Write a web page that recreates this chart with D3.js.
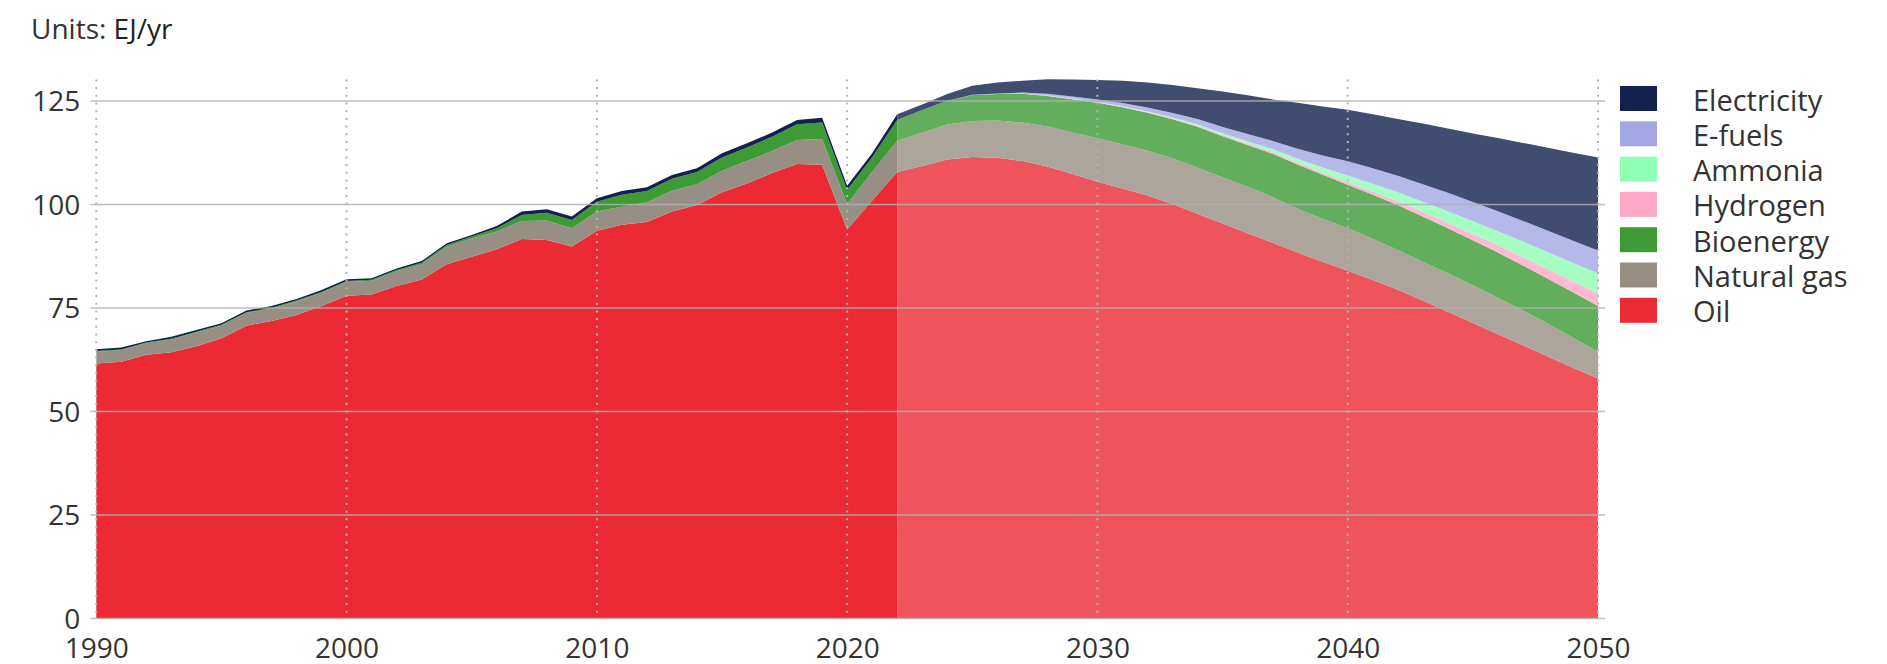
<!DOCTYPE html>
<html>
<head>
<meta charset="utf-8">
<script src="https://cdn.jsdelivr.net/npm/d3@7"></script>
<style>
  body { margin: 0; background: #fff; }
  text { font-family: "Open Sans", "Noto Sans", sans-serif; fill: #333; }
</style>
</head>
<body>
<div id="chart"></div>
<script>
const FRAME_WIDTH = 1887;
const FRAME_HEIGHT = 664;
const PLOT = {left: 96.3, right: 1598, top: 80.4, bottom: 618.5};

// years shown on the chart, history ends and outlook starts in 2022
const YEARS = d3.range(1990, 2051);
const SPLIT_YEAR = 2022;
const X_TICKS = [1990, 2000, 2010, 2020, 2030, 2040, 2050];
const Y_TICKS = [0, 25, 50, 75, 100, 125];

// EJ/yr, one value per year 1990..2050
const OIL = [61.6, 62.0, 63.7, 64.3, 65.8, 67.7, 70.75, 71.9, 73.3, 75.5,
  78.0, 78.3, 80.3, 81.9, 85.6, 87.4, 89.2, 91.7, 91.45, 89.85,
  93.7, 95.1, 95.8, 98.3, 99.9, 103.0, 105.1, 107.6, 109.8, 109.65,
  94.0, 101.0, 107.9, 109.3, 110.9, 111.5, 111.3, 110.5, 109.2, 107.4,
  105.5, 103.9, 102.2, 100.15, 97.8, 95.4, 93.1, 90.8, 88.4, 86.2,
  84.0, 81.8, 79.4, 76.8, 74.1, 71.4, 68.7, 66.0, 63.3, 60.6, 58.0];
const GAS = [2.85, 2.85, 2.8, 3.1, 3.3, 3.05, 3.1, 2.95, 3.3, 3.2,
  3.3, 3.3, 3.6, 3.7, 4.2, 4.4, 4.3, 4.35, 4.7, 4.45,
  4.6, 4.4, 4.75, 5.05, 5.0, 5.2, 5.4, 5.35, 5.8, 6.2,
  6.15, 6.95, 7.55, 8.05, 8.45, 8.7, 9.0, 9.3, 9.65, 10.0,
  10.5, 10.7, 10.8, 11.05, 11.1, 11.2, 11.2, 11.0, 10.6, 10.4,
  10.27, 9.9, 9.6, 9.4, 9.3, 9.1, 8.8, 8.4, 7.9, 7.2, 6.45];
const BIO = [0.15, 0.15, 0.15, 0.2, 0.2, 0.2, 0.15, 0.2, 0.2, 0.2,
  0.25, 0.25, 0.3, 0.35, 0.45, 0.5, 0.8, 1.45, 1.9, 2.0,
  2.4, 2.9, 2.75, 2.9, 3.0, 3.2, 3.3, 3.45, 3.8, 3.95,
  3.4, 3.5, 5.0, 5.5, 5.75, 6.3, 6.4, 7.0, 7.4, 8.05,
  8.6, 8.9, 9.2, 9.4, 9.9, 9.9, 10.1, 10.5, 10.7, 10.6,
  10.53, 10.7, 10.9, 10.9, 10.9, 10.9, 10.9, 10.9, 10.9, 11.0, 11.05];
const HYDROGEN = [0, 0, 0, 0, 0, 0, 0, 0, 0, 0,
  0, 0, 0, 0, 0, 0, 0, 0, 0, 0,
  0, 0, 0, 0, 0, 0, 0, 0, 0, 0,
  0, 0, 0, 0, 0, 0, 0.01, 0.03, 0.05, 0.07,
  0.1, 0.12, 0.15, 0.2, 0.25, 0.3, 0.35, 0.4, 0.45, 0.5,
  0.6, 0.75, 0.9, 1.1, 1.3, 1.5, 1.75, 2.0, 2.3, 2.65, 3.05];
const AMMONIA = [0, 0, 0, 0, 0, 0, 0, 0, 0, 0,
  0, 0, 0, 0, 0, 0, 0, 0, 0, 0,
  0, 0, 0, 0, 0, 0, 0, 0, 0, 0,
  0, 0, 0, 0, 0, 0, 0.01, 0.03, 0.05, 0.08,
  0.1, 0.15, 0.2, 0.25, 0.35, 0.45, 0.55, 0.7, 0.95, 1.25,
  1.6, 1.9, 2.2, 2.5, 2.8, 3.05, 3.4, 3.75, 4.1, 4.45, 4.85];
const EFUELS = [0, 0, 0, 0, 0, 0, 0, 0, 0, 0,
  0, 0, 0, 0, 0, 0, 0, 0, 0, 0,
  0, 0, 0, 0, 0, 0, 0, 0, 0, 0,
  0, 0, 0, 0, 0, 0.02, 0.1, 0.2, 0.4, 0.5,
  0.6, 0.75, 0.9, 1.05, 1.25, 1.5, 1.75, 1.95, 2.4, 2.9,
  3.45, 3.7, 3.95, 4.2, 4.45, 4.65, 4.85, 5.0, 5.2, 5.35, 5.5];
const ELECTRICITY = [0.45, 0.45, 0.35, 0.45, 0.4, 0.4, 0.4, 0.45, 0.4, 0.45,
  0.4, 0.35, 0.35, 0.4, 0.4, 0.35, 0.5, 0.8, 0.8, 0.8,
  0.8, 0.9, 0.9, 0.9, 0.9, 1.0, 1.0, 1.0, 1.05, 1.2,
  1.0, 0.95, 1.35, 1.35, 1.6, 2.2, 2.65, 2.85, 3.5, 4.1,
  4.7, 5.38, 6.05, 6.8, 7.45, 8.55, 9.35, 10.05, 11.1, 11.85,
  12.45, 13.05, 13.75, 14.7, 15.55, 16.6, 17.7, 18.85, 20.0, 21.25, 22.5];

// stacked bottom to top
const SERIES = [
  {key: "Oil", values: OIL, color: "#EC2A34"},
  {key: "Natural gas", values: GAS, color: "#978F84"},
  {key: "Bioenergy", values: BIO, color: "#3D9A34"},
  {key: "Hydrogen", values: HYDROGEN, color: "#FFA8C8"},
  {key: "Ammonia", values: AMMONIA, color: "#8FFFB4"},
  {key: "E-fuels", values: EFUELS, color: "#A3A8E5"},
  {key: "Electricity", values: ELECTRICITY, color: "#12214D"}
];

const rows = YEARS.map((yr, i) => {
  const row = {year: yr};
  SERIES.forEach((s) => { row[s.key] = s.values[i]; });
  return row;
});

const X_SCALE = d3.scaleLinear().domain([1990, 2050]).range([PLOT.left, PLOT.right]);
const Y_SCALE = d3.scaleLinear().domain([0, 130]).range([PLOT.bottom, PLOT.top]);

const stack = d3.stack().keys(SERIES.map((s) => s.key));
const layers = stack(rows);

const area = d3.area()
  .x((d) => X_SCALE(d.data.year))
  .y0((d) => Y_SCALE(d[0]))
  .y1((d) => Y_SCALE(d[1]));

const FRAME = d3.select("#chart")
  .append("svg")
    .attr("width", FRAME_WIDTH)
    .attr("height", FRAME_HEIGHT);

// clip history and outlook apart so the outlook can be drawn lighter
const defs = FRAME.append("defs");
const splitX = X_SCALE(SPLIT_YEAR);
defs.append("clipPath").attr("id", "clip-hist")
  .append("rect")
    .attr("x", 0).attr("y", 0)
    .attr("width", splitX).attr("height", FRAME_HEIGHT);
defs.append("clipPath").attr("id", "clip-proj")
  .append("rect")
    .attr("x", splitX).attr("y", 0)
    .attr("width", FRAME_WIDTH - splitX).attr("height", FRAME_HEIGHT);

function drawLayers(clipId, opacity) {
  FRAME.append("g")
    .attr("clip-path", "url(#" + clipId + ")")
    .attr("opacity", opacity)
    .selectAll("path")
    .data(layers)
    .enter()
    .append("path")
      .attr("d", area)
      .attr("fill", (d, i) => SERIES[i].color);
}
drawLayers("clip-hist", 1);
drawLayers("clip-proj", 0.8);

// horizontal grid on top of the areas
FRAME.append("g")
  .selectAll("line")
  .data(Y_TICKS)
  .enter()
  .append("line")
    .attr("x1", PLOT.left - 6)
    .attr("x2", PLOT.right + 7)
    .attr("y1", (d) => Y_SCALE(d))
    .attr("y2", (d) => Y_SCALE(d))
    .attr("stroke", "#b0b0b0")
    .attr("stroke-opacity", 0.85)
    .attr("stroke-width", 1.5);

// dotted decade lines
FRAME.append("g")
  .selectAll("line")
  .data(X_TICKS)
  .enter()
  .append("line")
    .attr("x1", (d) => X_SCALE(d))
    .attr("x2", (d) => X_SCALE(d))
    .attr("y1", PLOT.top - 1)
    .attr("y2", PLOT.bottom)
    .attr("stroke", "#b4b4b4")
    .attr("stroke-width", 2)
    .attr("stroke-dasharray", "2,5.7");

// axes, labels only
const xAxis = FRAME.append("g")
  .attr("transform", "translate(0," + PLOT.bottom + ")")
  .call(d3.axisBottom(X_SCALE).tickValues(X_TICKS).tickFormat(d3.format("d")).tickSize(0));
xAxis.select(".domain").remove();
xAxis.selectAll("text")
  .attr("y", 39.5)
  .attr("dy", null)
  .attr("font-size", "28px");

const yAxis = FRAME.append("g")
  .attr("transform", "translate(" + PLOT.left + ",0)")
  .call(d3.axisLeft(Y_SCALE).tickValues(Y_TICKS).tickSize(0).tickPadding(16));
yAxis.select(".domain").remove();
yAxis.selectAll("text")
  .attr("dy", "0.35em")
  .attr("font-size", "28px");
FRAME.selectAll(".tick text").attr("fill", "#333").attr("font-family", null);

// legend, top item first
const legend = FRAME.append("g")
  .attr("transform", "translate(1620,86)");
const legendItems = legend.selectAll("g")
  .data(SERIES.slice().reverse())
  .enter()
  .append("g")
    .attr("transform", (d, i) => "translate(0," + (i * 35.3) + ")");
legendItems.append("rect")
  .attr("width", 37)
  .attr("height", 25)
  .attr("fill", (d) => d.color);
legendItems.append("text")
  .attr("x", 73)
  .attr("y", 24.5)
  .attr("font-size", "29px")
  .text((d) => d.key);

// units note
const units = FRAME.append("text")
  .attr("x", 31)
  .attr("y", 39)
  .attr("font-size", "28px");
units.append("tspan").text("Units: ");
units.append("tspan").attr("font-weight", 500).attr("fill", "#222").text("EJ/yr");
</script>
</body>
</html>
